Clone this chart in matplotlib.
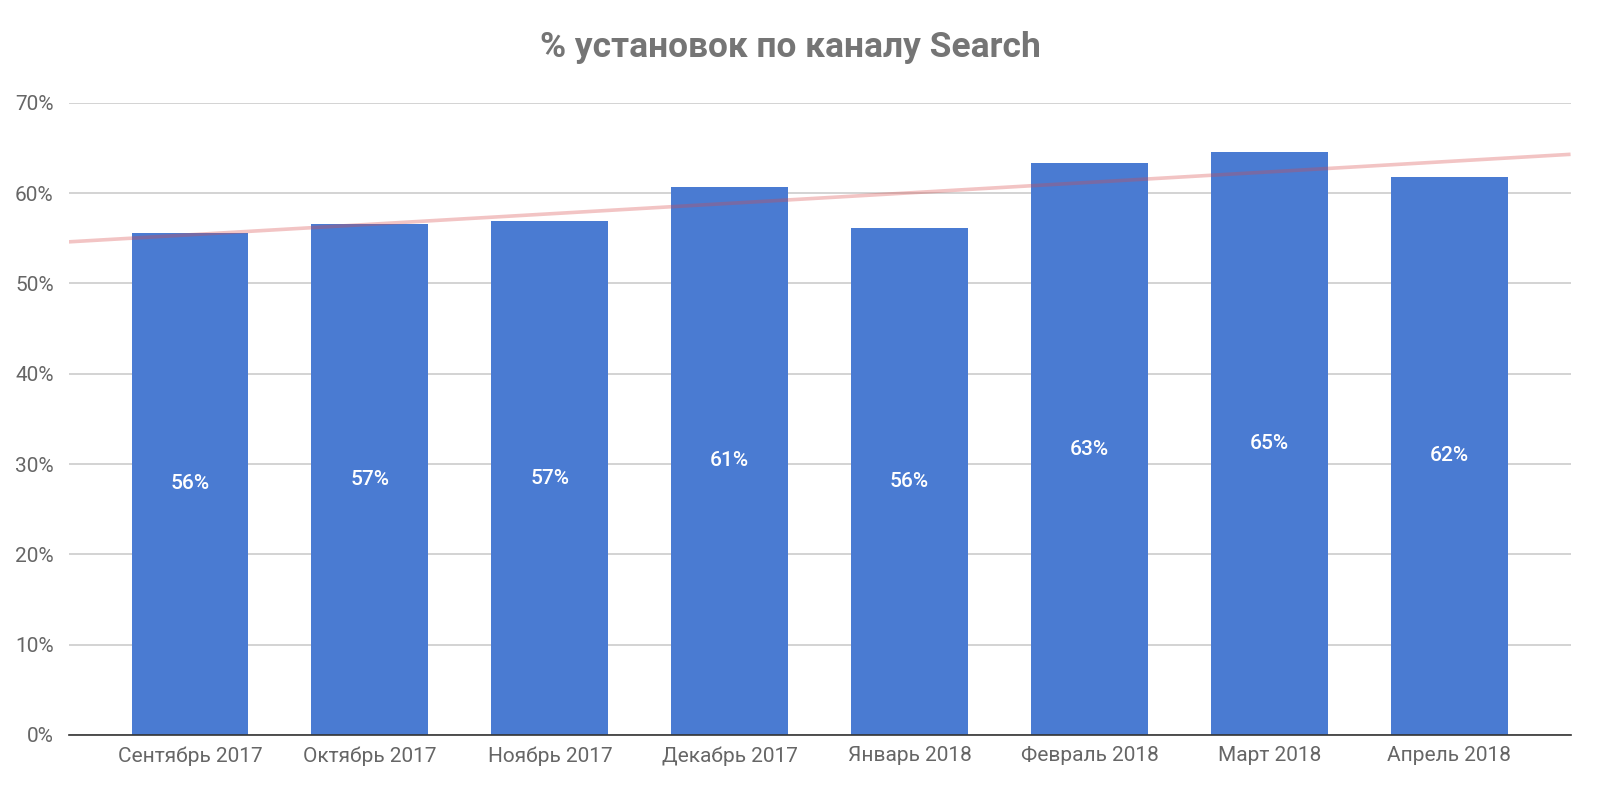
import numpy as np
import matplotlib
matplotlib.use("Agg")
import matplotlib.pyplot as plt

plt.rcParams['font.family'] = ['Roboto', 'DejaVu Sans']

months = ['Сентябрь 2017', 'Октябрь 2017', 'Ноябрь 2017', 'Декабрь 2017',
          'Январь 2018', 'Февраль 2018', 'Март 2018', 'Апрель 2018']
share = [55.6, 56.6, 56.9, 60.7, 56.1, 63.3, 64.5, 61.8]
yticks = [0, 10, 20, 30, 40, 50, 60, 70]

fig = plt.figure(figsize=(16, 7.91), dpi=100)
ax = fig.add_axes([0.0431, 0.0708, 0.9385, 0.7994])

x = np.arange(len(months))
bars = ax.bar(x, share, width=0.65, color='#4a7bd2', zorder=2)

# labels in the middle of each bar (round half up)
for xi, v in zip(x, share):
    ax.text(xi, v / 2, f'{int(np.floor(v + 0.5))}%', ha='center', va='center',
            color='white', fontsize=15, fontweight='medium', zorder=4)

# linear trend line across the whole plot
xlim = (-0.673, 7.674)
k, b = np.polyfit(x, share, 1)
xs = np.array(xlim)
ax.plot(xs, k * xs + b, color='#d84848', alpha=0.32, lw=2.6, zorder=3,
        solid_capstyle='butt')

ax.set_xlim(*xlim)
ax.set_ylim(0, 70)
ax.set_yticks(yticks)
ax.set_yticklabels([f'{t}%' for t in yticks])
ax.set_xticks(x)
ax.set_xticklabels(months)
ax.tick_params(axis='both', length=0, labelsize=15, colors='#666666')
ax.tick_params(axis='x', pad=8)
ax.tick_params(axis='y', pad=11)

ax.grid(axis='y', color='#cccccc', lw=1.2, zorder=0)
for s in ['top', 'right', 'left']:
    ax.spines[s].set_visible(False)
ax.spines['bottom'].set_color('#333333')
ax.spines['bottom'].set_linewidth(1.2)
ax.spines['bottom'].set_zorder(5)

fig.text(0.494, 0.94, '% установок по каналу Search', ha='center', va='center',
         fontsize=25.5, fontweight='bold', color='#757575')

fig.savefig('out.png', dpi=100, facecolor='white')
